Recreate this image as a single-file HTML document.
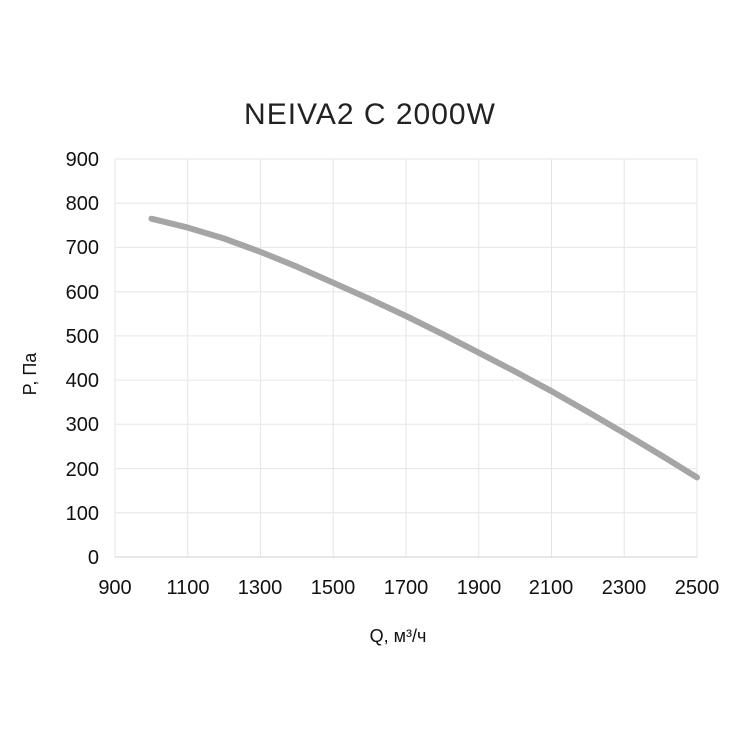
<!DOCTYPE html>
<html><head><meta charset="utf-8"><style>
body{margin:0;background:#fff;}
svg{display:block;font-family:"Liberation Sans",sans-serif;}
</style></head><body>
<svg width="738" height="738" viewBox="0 0 738 738" xmlns="http://www.w3.org/2000/svg">
<rect width="738" height="738" fill="#fff"/>
<text x="370" y="124" font-size="30" text-anchor="middle" fill="#222" letter-spacing="1">NEIVA2 C 2000W</text>
<g stroke="#e6e6e6" stroke-width="1">
<line x1="115" y1="159" x2="697" y2="159"/>
<line x1="115" y1="203.2" x2="697" y2="203.2"/>
<line x1="115" y1="247.4" x2="697" y2="247.4"/>
<line x1="115" y1="291.7" x2="697" y2="291.7"/>
<line x1="115" y1="335.9" x2="697" y2="335.9"/>
<line x1="115" y1="380.1" x2="697" y2="380.1"/>
<line x1="115" y1="424.3" x2="697" y2="424.3"/>
<line x1="115" y1="468.6" x2="697" y2="468.6"/>
<line x1="115" y1="512.8" x2="697" y2="512.8"/>
<line x1="115" y1="159" x2="115" y2="557"/>
<line x1="187.75" y1="159" x2="187.75" y2="557"/>
<line x1="260.5" y1="159" x2="260.5" y2="557"/>
<line x1="333.25" y1="159" x2="333.25" y2="557"/>
<line x1="406" y1="159" x2="406" y2="557"/>
<line x1="478.75" y1="159" x2="478.75" y2="557"/>
<line x1="551.5" y1="159" x2="551.5" y2="557"/>
<line x1="624.25" y1="159" x2="624.25" y2="557"/>
<line x1="697" y1="159" x2="697" y2="557"/>
</g>
<line x1="115" y1="557" x2="697" y2="557" stroke="#d0d0d0" stroke-width="1"/>
<g font-size="20" fill="#111" text-anchor="end">
<text x="99" y="166">900</text><text x="99" y="210">800</text><text x="99" y="254">700</text>
<text x="99" y="299">600</text><text x="99" y="343">500</text><text x="99" y="387">400</text>
<text x="99" y="431">300</text><text x="99" y="476">200</text><text x="99" y="520">100</text>
<text x="99" y="564">0</text>
</g>
<g font-size="20" fill="#111" text-anchor="middle">
<text x="115" y="594">900</text><text x="188" y="594">1100</text><text x="260" y="594">1300</text>
<text x="333" y="594">1500</text><text x="406" y="594">1700</text><text x="479" y="594">1900</text>
<text x="551" y="594">2100</text><text x="624" y="594">2300</text><text x="697" y="594">2500</text>
</g>
<text x="398" y="642" font-size="18" text-anchor="middle" fill="#111">Q, м³/ч</text>
<text transform="translate(36 374) rotate(-90)" font-size="18" text-anchor="middle" fill="#111">P, Па</text>
<polyline points="151.4,218.7 187.75,227.6 224,238.5 260.5,251.9 297,266.7 333.25,282.8 369.6,299 406,316 442.4,334 478.75,352.7 515,371.5 551.5,391.2 588,412 624.25,433.2 660.6,455 697,477.4" fill="none" stroke="#a5a5a5" stroke-width="6" stroke-linecap="round" stroke-linejoin="round"/>
</svg>
</body></html>
